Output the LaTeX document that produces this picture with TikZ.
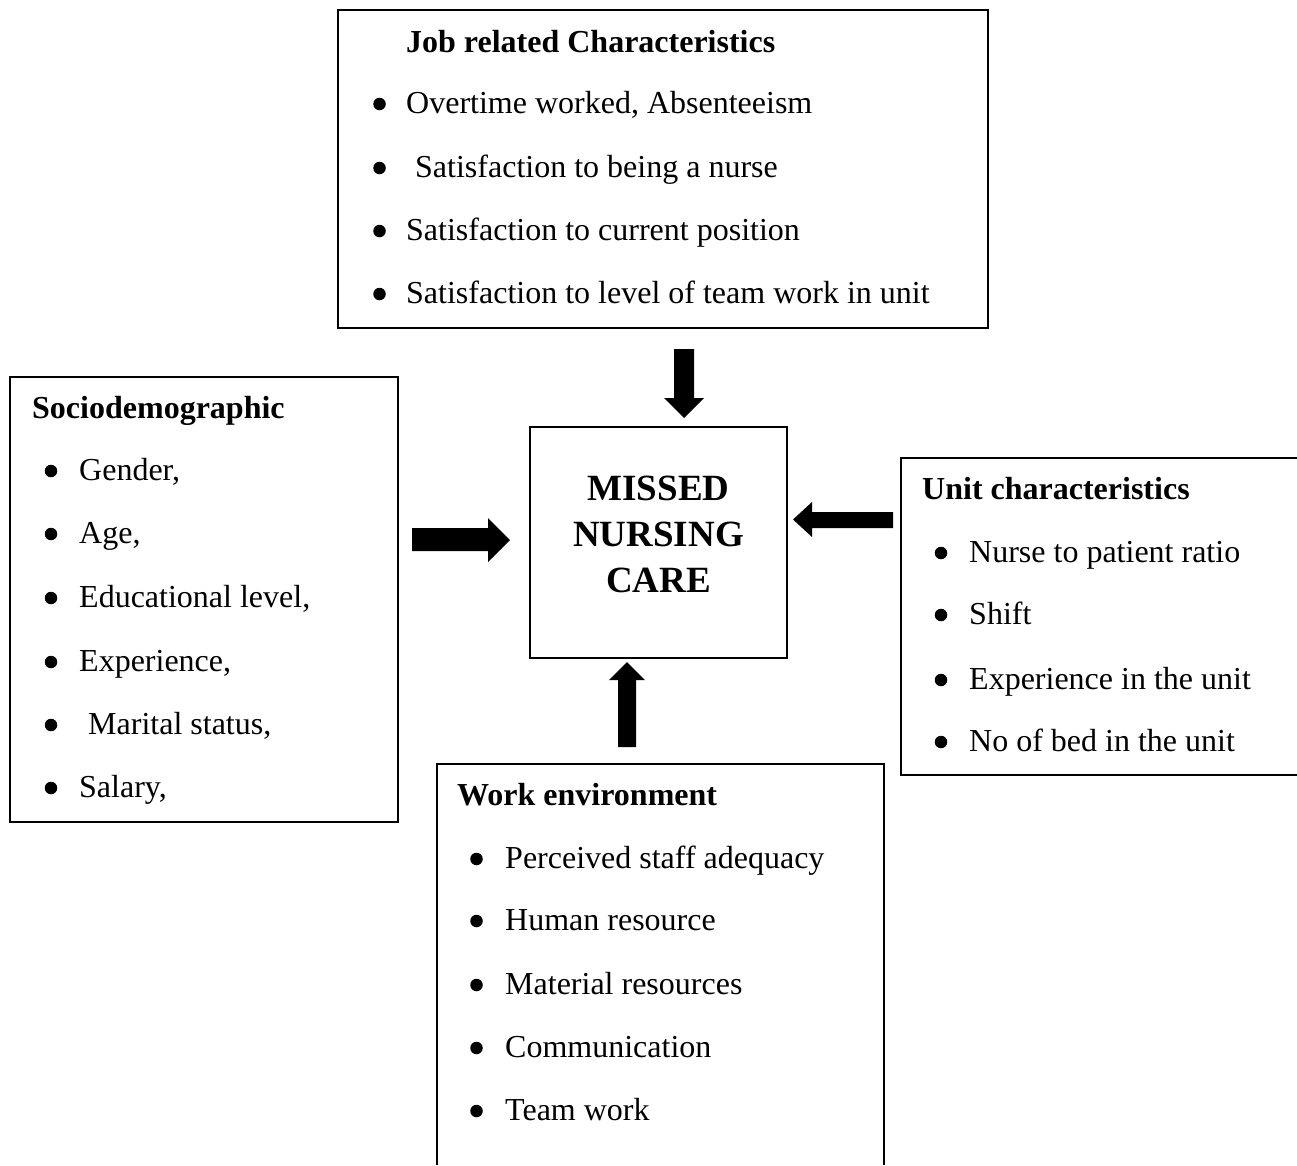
\documentclass[tikz,border=0pt]{standalone}
\usepackage{fontspec}
\setmainfont{Liberation Serif}
\begin{document}
\begin{tikzpicture}[x=1pt,y=-1pt,
  box/.style={draw,line width=2pt,rectangle,inner sep=0pt},
  txt/.style={anchor=base west,inner sep=0pt,font=\fontsize{32}{38}\selectfont},
  head/.style={txt,font=\fontsize{32}{38}\selectfont\bfseries},
  bul/.style={circle,fill=black,inner sep=0pt,minimum size=12.5pt},
  blk/.style={fill=black,draw=none}]
\useasboundingbox (0,0) rectangle (1297,1165);
\fill[white] (0,0) rectangle (1297,1165);
% boxes
\node[box,minimum width=650pt,minimum height=318pt] (job) at (663,169) {};
\node[box,minimum width=388pt,minimum height=445pt] (soc) at (204,599.5) {};
\node[box,minimum width=257pt,minimum height=231pt] (mnc) at (658.5,542.5) {};
\node[align=center,inner sep=0pt,font=\fontsize{37}{46}\selectfont\bfseries] (mnct) at (658.5,534.5) {MISSED\\NURSING\\CARE};
\node[inner sep=0pt,minimum width=396pt,minimum height=317pt] (unit) at (1099,616.5) {};
\draw[line width=2pt] (unit.north east) -- (unit.north west) -- (unit.south west) -- (unit.south east);
\node[inner sep=0pt,minimum width=447pt,minimum height=401pt] (work) at (660.5,964.5) {};
\draw[line width=2pt] (work.south west) -- (work.north west) -- (work.north east) -- (work.south east);
% job
\node[head] (jh) at (406,52) {Job related Characteristics};
\foreach \y/\t/\x [count=\i] in {113/{Overtime worked, Absenteeism}/406,177/{Satisfaction to being a nurse}/415,240/{Satisfaction to current position}/406,303/{Satisfaction to level of team work in unit}/406}{
  \node[bul] (jb\i) at (379.5,\y-9) {};
  \node[txt] (jt\i) at (\x,\y) {\t};
}
% socio
\node[head] (sh) at (32,418) {Sociodemographic};
\foreach \y/\t/\x [count=\i] in {480/{Gender,}/79,543/{Age,}/79,607/{Educational level,}/79,671/{Experience,}/79,734/{Marital status,}/88,797/{Salary,}/79}{
  \node[bul] (sb\i) at (51,\y-9) {};
  \node[txt] (st\i) at (\x,\y) {\t};
}
% unit
\node[head] (uh) at (922,499) {Unit characteristics};
\foreach \y/\t [count=\i] in {562/{Nurse to patient ratio},624/{Shift},689/{Experience in the unit},751/{No of bed in the unit}}{
  \node[bul] (ub\i) at (941,\y-9) {};
  \node[txt] (ut\i) at (969,\y) {\t};
}
% work
\node[head] (wh) at (457,805) {Work environment};
\foreach \y/\t [count=\i] in {868/{Perceived staff adequacy},930/{Human resource},994/{Material resources},1057/{Communication},1120/{Team work}}{
  \node[bul] (wb\i) at (476.5,\y-9) {};
  \node[txt] (wt\i) at (505,\y) {\t};
}
% block arrows
\fill[blk] (674,349) -- (694,349) -- (694,398) -- (704,398) -- (684,418) -- (664,398) -- (674,398) -- cycle;
\fill[blk] (412,528) -- (488,528) -- (488,518) -- (510,540) -- (488,562) -- (488,551) -- (412,551) -- cycle;
\fill[blk] (893,512) -- (812,512) -- (812,502) -- (793,519.5) -- (812,537) -- (812,528) -- (893,528) -- cycle;
\fill[blk] (618,747) -- (618,680) -- (609,680) -- (627,662) -- (645,680) -- (636,680) -- (636,747) -- cycle;
\end{tikzpicture}
\end{document}
